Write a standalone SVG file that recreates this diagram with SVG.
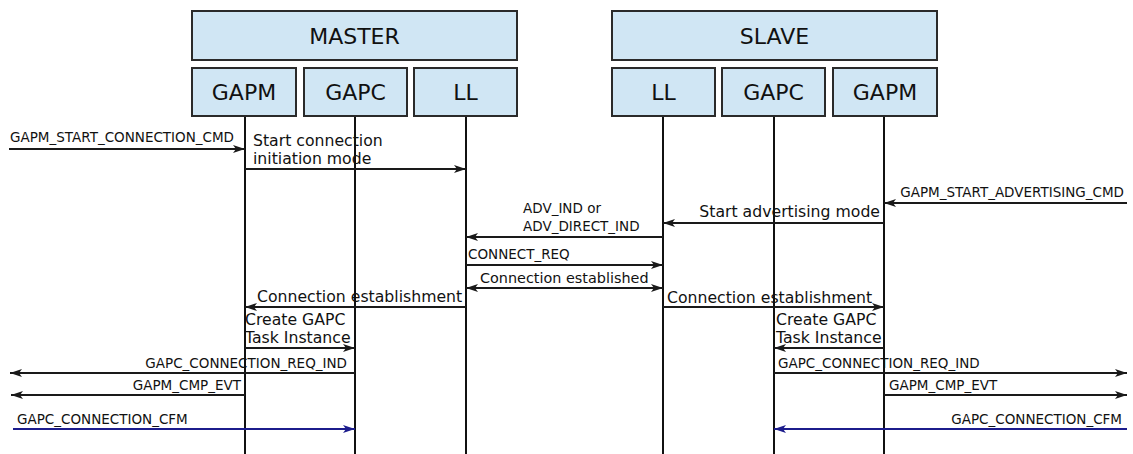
<svg xmlns="http://www.w3.org/2000/svg" width="1133" height="454" viewBox="0 0 1133 454">
<style>
.box{fill:#d0e6f4;stroke:#2a2a2a;stroke-width:2}
.title{font-family:"DejaVu Sans",Verdana,sans-serif;font-size:22px;fill:#111;text-anchor:middle}
.life{stroke:#111;stroke-width:2;fill:none}
.msg{stroke:#1a1a1a;stroke-width:1.9;fill:none;marker-end:url(#ah)}
.blue{stroke:#1c1c8c;stroke-width:1.9;fill:none;marker-end:url(#ahb)}
.sm{font-family:"DejaVu Sans",Verdana,sans-serif;font-size:13.5px;fill:#111}
.lg{font-family:"DejaVu Sans",Verdana,sans-serif;font-size:15.7px;fill:#111}
.end{text-anchor:end}
</style>
<defs>
<marker id="ah" markerUnits="userSpaceOnUse" markerWidth="13" markerHeight="9" refX="12" refY="4.5" orient="auto-start-reverse">
<path d="M0,0.5 L12,4.5 L0,8.5 L3,4.5 z" fill="#1a1a1a"/>
</marker>
<marker id="ahb" markerUnits="userSpaceOnUse" markerWidth="13" markerHeight="9" refX="12" refY="4.5" orient="auto">
<path d="M0,0.5 L12,4.5 L0,8.5 L3,4.5 z" fill="#1c1c8c"/>
</marker>
</defs>
<rect width="1133" height="454" fill="#fff"/>

<g id="master">
<rect class="box" x="192" y="11" width="325" height="49"/>
<text class="title" x="354.5" y="44">MASTER</text>
</g>
<g id="slave">
<rect class="box" x="612" y="11" width="325" height="49"/>
<text class="title" x="774.5" y="44">SLAVE</text>
</g>

<g id="m-gapm">
<line class="life" x1="245" y1="116" x2="245" y2="454"/>
<rect class="box" x="192" y="68" width="104" height="48"/>
<text class="title" x="244" y="100">GAPM</text>
</g>
<g id="m-gapc">
<line class="life" x1="355" y1="116" x2="355" y2="454"/>
<rect class="box" x="304" y="68" width="103" height="48"/>
<text class="title" x="355.5" y="100">GAPC</text>
</g>
<g id="m-ll">
<line class="life" x1="466" y1="116" x2="466" y2="454"/>
<rect class="box" x="414" y="68" width="103" height="48"/>
<text class="title" x="465.5" y="100">LL</text>
</g>
<g id="s-ll">
<line class="life" x1="663" y1="116" x2="663" y2="454"/>
<rect class="box" x="612" y="68" width="103" height="48"/>
<text class="title" x="663.5" y="100">LL</text>
</g>
<g id="s-gapc">
<line class="life" x1="774" y1="116" x2="774" y2="454"/>
<rect class="box" x="722" y="68" width="103" height="48"/>
<text class="title" x="773.5" y="100">GAPC</text>
</g>
<g id="s-gapm">
<line class="life" x1="884" y1="116" x2="884" y2="454"/>
<rect class="box" x="833" y="68" width="104" height="48"/>
<text class="title" x="885" y="100">GAPM</text>
</g>

<g id="connectors">
<line class="msg" x1="9" y1="149" x2="245" y2="149"/>
<text class="sm" x="10" y="142">GAPM_START_CONNECTION_CMD</text>

<line class="msg" x1="245" y1="169" x2="466" y2="169"/>
<text class="lg" x="253" y="146">Start connection</text>
<text class="lg" x="253" y="164">initiation mode</text>

<line class="msg" x1="1127" y1="203" x2="884" y2="203"/>
<text class="sm end" x="1124" y="197">GAPM_START_ADVERTISING_CMD</text>

<line class="msg" x1="884" y1="223" x2="663" y2="223"/>
<text class="lg end" x="880" y="217">Start advertising mode</text>

<line class="msg" x1="663" y1="237" x2="466" y2="237"/>
<text class="sm" x="523" y="213">ADV_IND or</text>
<text class="sm" x="523" y="231">ADV_DIRECT_IND</text>

<line class="msg" x1="466" y1="265" x2="663" y2="265"/>
<text class="sm" x="468" y="259">CONNECT_REQ</text>

<line class="msg" x1="466" y1="288" x2="663" y2="288" marker-start="url(#ah)"/>
<text class="lg" x="480" y="283" style="font-size:14.4px">Connection established</text>

<line class="msg" x1="466" y1="307" x2="245" y2="307"/>
<text class="lg" x="257" y="302">Connection establishment</text>

<line class="msg" x1="663" y1="307" x2="884" y2="307"/>
<text class="lg" x="667" y="303">Connection establishment</text>

<line class="msg" x1="245" y1="348" x2="355" y2="348"/>
<text class="lg" x="245" y="325">Create GAPC</text>
<text class="lg" x="245" y="343">Task Instance</text>

<line class="msg" x1="884" y1="348" x2="774" y2="348"/>
<text class="lg" x="776" y="325">Create GAPC</text>
<text class="lg" x="776" y="343">Task Instance</text>

<line class="msg" x1="355" y1="373" x2="10" y2="373"/>
<text class="sm end" x="347" y="368">GAPC_CONNECTION_REQ_IND</text>

<line class="msg" x1="245" y1="395" x2="11" y2="395"/>
<text class="sm end" x="241" y="390">GAPM_CMP_EVT</text>

<line class="blue" x1="13" y1="429" x2="355" y2="429"/>
<text class="sm" x="17" y="424">GAPC_CONNECTION_CFM</text>

<line class="msg" x1="774" y1="373" x2="1127" y2="373"/>
<text class="sm" x="778" y="368">GAPC_CONNECTION_REQ_IND</text>

<line class="msg" x1="884" y1="395" x2="1127" y2="395"/>
<text class="sm" x="889" y="390">GAPM_CMP_EVT</text>

<line class="blue" x1="1127" y1="429" x2="774" y2="429"/>
<text class="sm end" x="1122" y="424">GAPC_CONNECTION_CFM</text>
</g>
</svg>
